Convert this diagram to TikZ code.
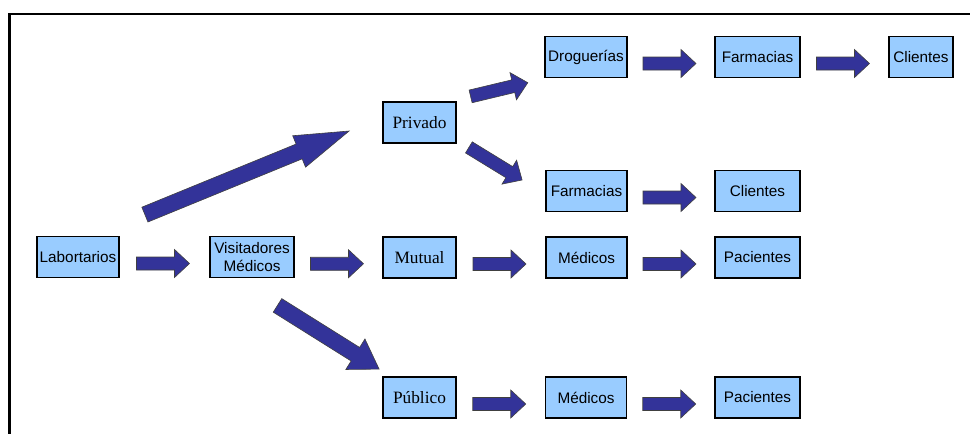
\documentclass[tikz,border=0pt]{standalone}
\usepackage{fontspec}
\setmainfont{Liberation Sans}
\newfontfamily\boxserif{Liberation Serif}
\usetikzlibrary{calc}
\definecolor{boxblue}{HTML}{99CCFF}
\definecolor{arrowblue}{HTML}{333399}
\tikzset{
  box/.style={draw, line width=1.8pt, fill=boxblue, minimum height=41pt, inner sep=0pt,
    font=\fontsize{15.3}{17.5}\selectfont},
  serifbox/.style={box, minimum width=73pt, font=\boxserif\fontsize{17.3}{19}\selectfont},
  barr/.style={fill=arrowblue, draw=black!75, line width=0.6pt, line join=miter}
}
% tail, tip, half shaft, half head, head length
\newcommand{\blockarrow}[5]{%
  \coordinate (bt) at (#1);
  \coordinate (bh) at (#2);
  \coordinate (bb) at ($(bh)!#5!(bt)$);
  \filldraw[barr] ($(bt)!#3!90:(bh)$) -- ($(bb)!#3!90:(bh)$) -- ($(bb)!#4!90:(bh)$) -- (bh)
    -- ($(bb)!#4!-90:(bh)$) -- ($(bb)!#3!-90:(bh)$) -- ($(bt)!#3!-90:(bh)$) -- cycle;}
\newcommand{\harrow}[2]{%
  \blockarrow{$(#1.east)!.5!(#2.west)+(-28,6.5)$}{$(#1.east)!.5!(#2.west)+(25,6.5)$}{6.5pt}{14pt}{15pt}}

\begin{document}
\begin{tikzpicture}[x=1pt, y=-1pt]
\useasboundingbox (0,0) rectangle (970,434);
\draw[line width=2.2pt] (9.5,434) -- (9.5,14) -- (970,14);

\node[box, minimum width=82pt] (lab) at (78,257) {Labortarios};
\node[box, minimum width=84pt, align=center] (vis) at (252,257) {Visitadores\\Médicos};
\node[serifbox] (priv) at (419.5,122.5) {Privado};
\node[serifbox] (mut) at (419.5,257.5) {Mutual};
\node[serifbox] (pub) at (419.5,397.5) {Público};
\node[box, minimum width=82pt] (drog) at (586,57) {Droguerías};
\node[box, minimum width=85pt] (farm1) at (757.5,57) {Farmacias};
\node[box, minimum width=64pt] (cli1) at (921,57) {Clientes};
\node[box, minimum width=81pt] (farm2) at (586.5,191) {Farmacias};
\node[box, minimum width=85pt] (cli2) at (757.5,191) {Clientes};
\node[box, minimum width=81pt] (med1) at (586.5,257.5) {Médicos};
\node[box, minimum width=85pt] (pac1) at (757.5,257.5) {Pacientes};
\node[box, minimum width=81pt] (med2) at (586,397.5) {Médicos};
\node[box, minimum width=85pt] (pac2) at (757.5,397.5) {Pacientes};

\harrow{lab}{vis}
\harrow{vis}{mut}
\harrow{mut}{med1}
\harrow{med1}{pac1}
\harrow{drog}{farm1}
\harrow{farm1}{cli1}
\harrow{farm2}{cli2}
\harrow{pub}{med2}
\harrow{med2}{pac2}
\blockarrow{$(lab.north east)+(25,-21)$}{$(priv.west)+(-33,8.5)$}{8pt}{17pt}{54pt}
\blockarrow{$(vis.south)+(25.5,27)$}{$(pub.north west)+(-3,-7)$}{8pt}{18pt}{28pt}
\blockarrow{$(priv.north east)+(13.7,-4.7)$}{$(drog.west)+(-16.3,25.7)$}{6.5pt}{14pt}{15pt}
\blockarrow{$(priv.south east)+(12,3.5)$}{$(farm2.west)+(-23,-11)$}{6.5pt}{14pt}{15pt}
\end{tikzpicture}
\end{document}
